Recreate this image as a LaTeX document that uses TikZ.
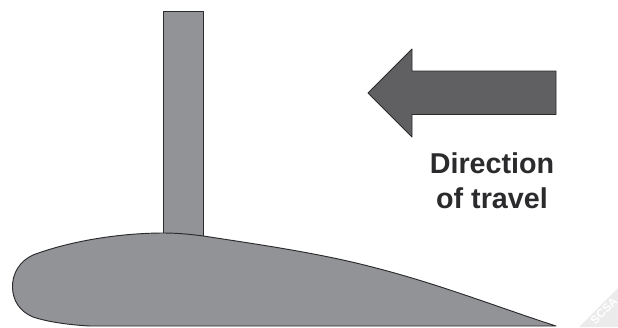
\documentclass[tikz,border=0pt]{standalone}
\usepackage{fontspec}
\setmainfont{Liberation Sans}
\definecolor{wingGrey}{HTML}{929396}
\definecolor{arrowGrey}{HTML}{606062}
\definecolor{lineGrey}{HTML}{2B2A2C}
\definecolor{markGrey}{HTML}{EBEBEC}
\tikzset{
    partshape/.style={draw=lineGrey, line width=0.8pt, line join=round},
    travellabel/.style={font=\fontsize{24.5}{30}\selectfont\bfseries, text=lineGrey, align=center, inner sep=0pt},
}
\begin{document}
\begin{tikzpicture}[x=0.03cm, y=-0.03cm]
    \useasboundingbox (0, 0) rectangle (618, 327);
    % strut
    \draw[partshape, fill=wingGrey] (163.5, 11) rectangle (203.5, 240);

    % wing section
    \draw[partshape, fill=wingGrey] (556, 326)
        .. controls (500, 308) and (442, 285) .. (376, 268)
        .. controls (320, 253) and (255, 244) .. (203.5, 236)
        .. controls (188, 234) and (176, 233) .. (163.5, 233)
        .. controls (120, 233) and (70, 241) .. (33, 255)
        .. controls (20, 261) and (12, 273) .. (12.5, 288)
        .. controls (13, 300) and (19, 311) .. (33, 317)
        .. controls (48, 322) and (70, 325) .. (90, 326)
        -- cycle;

    % arrow
    \draw[partshape, fill=arrowGrey] (368, 93) -- (412, 49) -- (412, 71) -- (556, 71)
        -- (556, 114.5) -- (412, 114.5) -- (412, 137) -- cycle;
    \node[travellabel] (travel) at (492, 181) {Direction\\of travel};

    % corner mark
    \fill[markGrey] (579, 327) -- (618, 288) -- (618, 327) -- cycle;
    \node[font=\bfseries\fontsize{10}{10}\selectfont, text=white, rotate=45, inner sep=0pt] (mark) at (604, 311) {SCSA};
\end{tikzpicture}
\end{document}
